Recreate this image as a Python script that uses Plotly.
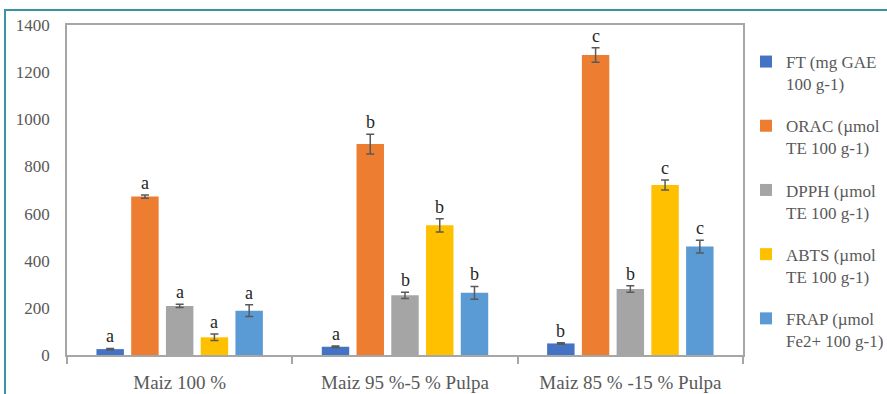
import plotly.graph_objects as go

categories = ["Maiz 100 %", "Maiz 95 %-5 % Pulpa", "Maiz 85 % -15 % Pulpa"]
series_names = [
    "FT (mg GAE<br>100 g-1)",
    "ORAC (µmol<br>TE 100 g-1)",
    "DPPH (µmol<br>TE 100 g-1)",
    "ABTS (µmol<br>TE 100 g-1)",
    "FRAP (µmol<br>Fe2+ 100 g-1)",
]
colors = ["#4472C4", "#ED7D31", "#A5A5A5", "#FFC000", "#5B9BD5"]

ft = [25, 35, 49]
orac = [672, 895, 1273]
dpph = [208, 253, 280]
abts = [75, 550, 721]
frap = [188, 264, 460]

ft_err = [3, 3, 3]
orac_err = [7, 42, 31]
dpph_err = [7, 13, 14]
abts_err = [14, 28, 21]
frap_err = [25, 27, 27]

ft_let = ["a", "a", "b"]
orac_let = ["a", "b", "c"]
dpph_let = ["a", "b", "b"]
abts_let = ["a", "b", "c"]
frap_let = ["a", "b", "c"]

values = [ft, orac, dpph, abts, frap]
errors = [ft_err, orac_err, dpph_err, abts_err, frap_err]
letters = [ft_let, orac_let, dpph_let, abts_let, frap_let]

FONT = "Liberation Serif"
bargap = 0.229
bargroupgap = 0.21

fig = go.Figure()
for j, (name, col, v, e) in enumerate(zip(series_names, colors, values, errors)):
    fig.add_trace(go.Bar(
        x=categories, y=v, name=name, legendgroup=f"g{j}",
        marker=dict(color=col, line=dict(width=0)),
        error_y=dict(type="data", array=e, visible=True, color="#595959",
                     thickness=1.5, width=4),
    ))

n = len(values)
slot = (1 - bargap) / n
annotations = []
for j in range(n):
    for i in range(len(categories)):
        annotations.append(dict(
            x=i + (j - (n - 1) / 2) * slot, y=values[j][i] + errors[j][i],
            xref="x", yref="y", text=letters[j][i], showarrow=False,
            yanchor="bottom", yshift=0,
            font=dict(family=FONT, size=18, color="#262626"),
        ))

# outer teal frame of the figure
L, R, T, B = 67, 144, 25, 39
W, H = 887, 394
pw, ph = W - L - R, H - T - B
def px_x(p): return (p - L) / pw
def px_y(p): return (H - B - p) / ph

shapes = [dict(type="rect", xref="paper", yref="paper",
               x0=px_x(5), x1=px_x(930), y0=px_y(430), y1=px_y(10),
               line=dict(color="#3A93A5", width=2), fillcolor="rgba(0,0,0,0)",
               layer="above")]

fig.update_layout(
    width=W, height=H,
    margin=dict(l=L, r=R, t=T, b=B, autoexpand=False),
    paper_bgcolor="white", plot_bgcolor="white",
    barmode="group", bargap=bargap, bargroupgap=bargroupgap,
    font=dict(family=FONT, color="#595959"),
    showlegend=True,
    legend=dict(x=px_x(746), xanchor="left", y=px_y(44), yanchor="top",
                font=dict(family=FONT, size=17, color="#595959"),
                tracegroupgap=17, valign="top", bgcolor="rgba(0,0,0,0)"),
    annotations=annotations,
    shapes=shapes,
)
fig.update_xaxes(
    showline=True, linecolor="#A6A6A6", linewidth=1.5, mirror=True,
    ticks="outside", tickson="boundaries", ticklen=7, tickcolor="#A6A6A6",
    tickwidth=1.5, tickfont=dict(family=FONT, size=19, color="#595959"),
    showgrid=False, ticklabelstandoff=9, automargin=False,
)
fig.update_yaxes(
    range=[0, 1400], dtick=200, showline=True, linecolor="#A6A6A6",
    linewidth=1.5, mirror=True, ticks="", showgrid=False, zeroline=False,
    tickfont=dict(family=FONT, size=17, color="#595959"),
    ticklabelstandoff=12, automargin=False,
)

fig.write_html("out.html", config={"displayModeBar": False},
               post_script="document.body.style.margin='0px';document.body.style.overflow='hidden';")
